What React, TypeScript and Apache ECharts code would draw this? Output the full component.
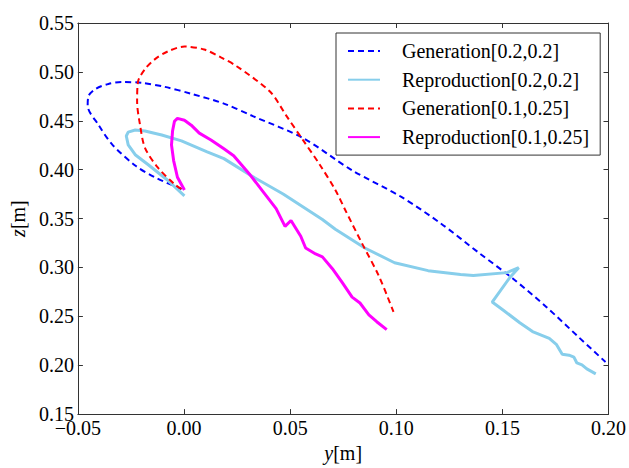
import React, { useEffect, useRef } from "react";
import * as echarts from "echarts";

// Generation[0.2,0.2]
const genA_Y = [-0.0012, -0.0138, -0.023, -0.0337, -0.0402, -0.0454, -0.0449, -0.0416, -0.0356, -0.0291, -0.0198, -0.0091, 0.0034, 0.0188, 0.0327, 0.056, 0.0792, 0.1024, 0.121, 0.1396, 0.1549, 0.1707, 0.1861, 0.1986];
const genA_Z = [0.3802, 0.3922, 0.4043, 0.4254, 0.4455, 0.4656, 0.4756, 0.4827, 0.4877, 0.4897, 0.4887, 0.4847, 0.4776, 0.4676, 0.4545, 0.4324, 0.3993, 0.3721, 0.345, 0.3138, 0.2887, 0.2596, 0.2284, 0.2033];

// Reproduction[0.2,0.2]
const repA_Y = [0.0002, -0.0077, -0.017, -0.023, -0.0263, -0.0272, -0.0263, -0.023, -0.0184, -0.0105, -0.0012, 0.0109, 0.0188, 0.0313, 0.0467, 0.0652, 0.0713, 0.0852, 0.0992, 0.115, 0.1303, 0.1363, 0.1521, 0.1577, 0.1535, 0.1452, 0.1503, 0.1582, 0.1642, 0.1721, 0.1754, 0.1782, 0.1814, 0.1837, 0.1851, 0.1875, 0.1898, 0.194];
const repA_Z = [0.3731, 0.3892, 0.4053, 0.4153, 0.4254, 0.4344, 0.4384, 0.4405, 0.4395, 0.4354, 0.4294, 0.4183, 0.4113, 0.3942, 0.3751, 0.349, 0.339, 0.3199, 0.3048, 0.2967, 0.2927, 0.2917, 0.2947, 0.2997, 0.2897, 0.2646, 0.2565, 0.2435, 0.2344, 0.2274, 0.2214, 0.2113, 0.2103, 0.2083, 0.2023, 0.2003, 0.1962, 0.1912];

// Generation[0.1,0.25]
const genB_Y = [-0.0012, -0.0045, -0.0124, -0.0184, -0.0207, -0.0221, -0.0217, -0.0184, -0.0138, -0.0077, 0.0002, 0.0095, 0.0174, 0.0248, 0.0406, 0.0481, 0.056, 0.0639, 0.0713, 0.0759, 0.0838, 0.0917, 0.0987];
const genB_Z = [0.3802, 0.3852, 0.4023, 0.4224, 0.4455, 0.4696, 0.4897, 0.5028, 0.5128, 0.5209, 0.5259, 0.5229, 0.5148, 0.5058, 0.4796, 0.4555, 0.4304, 0.4053, 0.3792, 0.359, 0.3249, 0.2917, 0.2545];

// Reproduction[0.1,0.25]
const repB_Y = [0.0002, -0.0031, -0.0049, -0.0059, -0.0054, -0.0045, -0.0031, 0.0002, 0.0034, 0.0072, 0.0127, 0.0188, 0.0234, 0.0313, 0.0374, 0.0434, 0.0476, 0.0504, 0.055, 0.0573, 0.062, 0.0652, 0.0699, 0.0745, 0.0792, 0.0829, 0.0871, 0.0908, 0.0955];
const repB_Z = [0.3792, 0.3922, 0.4093, 0.4254, 0.4395, 0.4495, 0.4525, 0.4505, 0.4455, 0.4374, 0.4304, 0.4214, 0.4143, 0.3942, 0.3771, 0.3601, 0.342, 0.348, 0.3319, 0.3199, 0.3138, 0.3108, 0.2987, 0.2847, 0.2696, 0.2636, 0.2515, 0.2445, 0.2364];

const seriesNames = ["Generation[0.2,0.2]", "Reproduction[0.2,0.2]", "Generation[0.1,0.25]", "Reproduction[0.1,0.25]"];

const FONT = "'Liberation Serif', 'Times New Roman', serif";
const FS = 20;

const pair = (a: number[], b: number[]) => a.map((v, i) => [v, b[i]]);
const fmt = (v: number) => (v < 0 ? "\u2212" + Math.abs(v).toFixed(2) : v.toFixed(2));

export default function App() {
  const ref = useRef<HTMLDivElement>(null);
  useEffect(() => {
    if (!ref.current) return;
    const chart = echarts.init(ref.current, undefined, { renderer: "svg" });
    const axisCommon = {
      type: "value" as const,
      axisLine: { show: true, onZero: false, lineStyle: { color: "#333", width: 1 } },
      axisTick: { show: true, inside: true, length: 5, lineStyle: { color: "#333" } },
      splitLine: { show: false },
    };
    const labelStyle = { color: "#000", fontFamily: FONT, fontSize: FS };
    const italic = { fontStyle: "italic", fontFamily: FONT, fontSize: FS, color: "#000" };
    chart.setOption({
      animation: false,
      backgroundColor: "#fff",
      grid: { left: 72, right: 19, top: 23, bottom: 47 },
      legend: {
        orient: "vertical",
        left: 336,
        top: 33,
        padding: [8, 11, 8, 11],
        itemWidth: 32,
        itemHeight: 16,
        itemGap: 8.7,
        borderColor: "#333",
        borderWidth: 1,
        backgroundColor: "#fff",
        itemStyle: { opacity: 0 },
        textStyle: { color: "#000", fontFamily: FONT, fontSize: FS, padding: [0, 0, 0, 17], lineHeight: 20 },
        data: seriesNames,
      },
      xAxis: [
        {
          ...axisCommon,
          min: -0.05,
          max: 0.2,
          interval: 0.05,
          name: "{it|y}[m]",
          nameLocation: "middle",
          nameGap: 28,
          nameTextStyle: { ...labelStyle, rich: { it: italic } },
          axisLabel: { ...labelStyle, margin: 4, formatter: fmt },
        },
        {
          ...axisCommon,
          position: "top",
          min: -0.05,
          max: 0.2,
          interval: 0.05,
          axisLabel: { show: false },
        },
      ],
      yAxis: [
        {
          ...axisCommon,
          min: 0.15,
          max: 0.55,
          interval: 0.05,
          name: "{it|z}[m]",
          nameLocation: "middle",
          nameGap: 46,
          nameTextStyle: { ...labelStyle, rich: { it: italic } },
          axisLabel: { ...labelStyle, margin: 4, formatter: fmt },
        },
        {
          ...axisCommon,
          position: "right",
          min: 0.15,
          max: 0.55,
          interval: 0.05,
          axisLabel: { show: false },
        },
      ],
      series: [
        {
          name: seriesNames[0],
          type: "line",
          data: pair(genA_Y, genA_Z),
          showSymbol: false,
          symbol: "none",
          smooth: 0.3,
          lineStyle: { color: "#0000ff", width: 2, type: [6, 4] },
          itemStyle: { color: "#0000ff" },
        },
        {
          name: seriesNames[1],
          type: "line",
          data: pair(repA_Y, repA_Z),
          showSymbol: false,
          symbol: "none",
          lineStyle: { color: "#87ceeb", width: 3 },
          itemStyle: { color: "#87ceeb" },
        },
        {
          name: seriesNames[2],
          type: "line",
          data: pair(genB_Y, genB_Z),
          showSymbol: false,
          symbol: "none",
          smooth: 0.3,
          lineStyle: { color: "#ff0000", width: 2, type: [6, 4] },
          itemStyle: { color: "#ff0000" },
        },
        {
          name: seriesNames[3],
          type: "line",
          data: pair(repB_Y, repB_Z),
          showSymbol: false,
          symbol: "none",
          lineStyle: { color: "#ff00ff", width: 3 },
          itemStyle: { color: "#ff00ff" },
        },
      ],
    });
    return () => chart.dispose();
  }, []);
  return <div ref={ref} style={{ position: "fixed", left: 0, top: 0, width: 629, height: 468 }} />;
}
